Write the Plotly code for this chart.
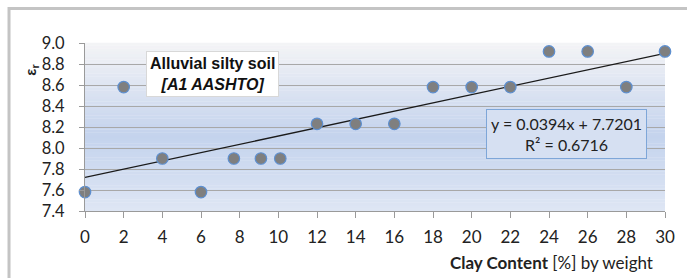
import plotly.graph_objects as go

# Data
clay = [0, 2, 4, 6, 7.7, 9.1, 10.1, 12, 14, 16, 18, 20, 22, 24, 26, 28, 30]
eps_r = [7.58, 8.58, 7.90, 7.58, 7.90, 7.90, 7.90, 8.23, 8.23, 8.23, 8.58, 8.58, 8.58, 8.92, 8.92, 8.58, 8.92]
slope = 0.0394
intercept = 7.7201
r2 = 0.6716
x_ticks = list(range(0, 31, 2))
y_ticks = [7.4, 7.6, 7.8, 8.0, 8.2, 8.4, 8.6, 8.8, 9.0]

FONT = "Lato, 'Open Sans', sans-serif"

fig = go.Figure()

# background gradient bands (style only)
def lerp(a, b, t):
    return tuple(int(round(a[i] + (b[i] - a[i]) * t)) for i in range(3))

stops = [(0.0, (222, 230, 244)), (0.45, (196, 211, 237)), (1.0, (244, 244, 246))]
n = 60
shapes = []
for i in range(n):
    t = (i + 0.5) / n
    for j in range(len(stops) - 1):
        if stops[j][0] <= t <= stops[j + 1][0]:
            tt = (t - stops[j][0]) / (stops[j + 1][0] - stops[j][0])
            c = lerp(stops[j][1], stops[j + 1][1], tt)
            break
    shapes.append(dict(type="rect", xref="x domain", yref="y domain",
                       x0=0, x1=1, y0=i / n, y1=(i + 1) / n + 0.002,
                       fillcolor="rgb(%d,%d,%d)" % c, line=dict(width=0), layer="below"))

# outer chart border (partially cropped in the reference)
shapes.append(dict(type="rect", xref="paper", yref="paper",
                   x0=-0.131, x1=1.2, y0=-0.6, y1=1.205,
                   line=dict(color="#c4c4c4", width=3), fillcolor="rgba(0,0,0,0)", layer="below"))

fig.add_trace(go.Scatter(
    x=[min(clay), max(clay)],
    y=[slope * min(clay) + intercept, slope * max(clay) + intercept],
    mode="lines", line=dict(color="#1a1a1a", width=1.3), showlegend=False, hoverinfo="skip"))

fig.add_trace(go.Scatter(
    x=clay, y=eps_r, mode="markers",
    marker=dict(size=11.5, color="#7f7f7f", line=dict(color="#5d8fd0", width=1.2)),
    showlegend=False, cliponaxis=False))

fig.update_layout(
    width=687, height=278,
    margin=dict(l=85, r=15, t=43, b=67),
    paper_bgcolor="white", plot_bgcolor="rgba(0,0,0,0)",
    font=dict(family=FONT, size=17, color="#222222"),
    shapes=shapes,
    xaxis=dict(range=[0, 30], tickvals=x_ticks, ticktext=[str(v) for v in x_ticks],
               showgrid=False, zeroline=False, showline=True, linecolor="#9a9a9a", linewidth=1,
               ticks="outside", ticklen=6, tickcolor="#9a9a9a", ticklabelstandoff=5,
               tickfont=dict(family=FONT, size=17, color="#222")),
    yaxis=dict(range=[7.4, 9.0], tickvals=y_ticks, ticktext=["%.1f" % v for v in y_ticks],
               showgrid=True, gridcolor="#a8a8a8", gridwidth=1, zeroline=False,
               showline=True, linecolor="#9a9a9a", linewidth=1,
               ticks="outside", ticklen=5, tickcolor="#9a9a9a", ticklabelstandoff=11,
               tickfont=dict(family=FONT, size=16.5, color="#222")),
    annotations=[
        dict(xref="paper", yref="paper", x=(30 - 85) / 587, y=(211 - 70) / 168,
             xanchor="center", yanchor="middle",
             text="<b>ε<sub>r</sub></b>", textangle=-90, showarrow=False,
             font=dict(family="Liberation Sans, Arial", size=15, color="#222")),
        dict(xref="paper", yref="paper", x=(662 - 85) / 587, xanchor="right",
             y=(211 - 262) / 168, yanchor="middle",
             text="<b>Clay Content</b> [%] by weight", showarrow=False,
             font=dict(family=FONT, size=17, color="#222")),
        dict(xref="paper", yref="paper", x=(214 - 85) / 587, y=(211 - 74) / 168,
             xanchor="center", yanchor="middle",
             text="<b>Alluvial silty soil</b><br><b><i>[A1 AASHTO]</i></b>",
             showarrow=False, bgcolor="white", bordercolor="#d8d8d8", borderwidth=1, borderpad=3,
             font=dict(family="Liberation Sans, Arial", size=16, color="#111")),
        dict(xref="paper", yref="paper", x=(572 - 85) / 587, y=(211 - 134) / 168,
             xanchor="center", yanchor="middle",
             text="y = %.4fx + %.4f<br>R² = %.4f" % (slope, intercept, r2),
             showarrow=False, bgcolor="#d6e0f2", bordercolor="#7ea6d8", borderwidth=1, borderpad=4,
             font=dict(family=FONT, size=16, color="#222")),
    ],
)

fig.write_html("out.html", config={"displayModeBar": False},
               post_script="document.body.style.margin='0';document.body.style.overflow='hidden';")
